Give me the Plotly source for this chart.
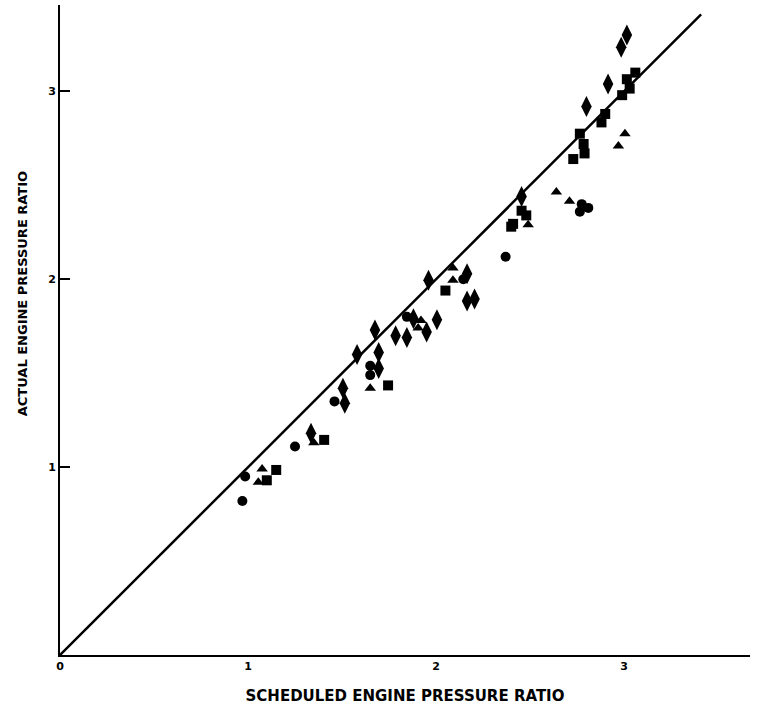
import plotly.graph_objects as go

# Test points: scheduled vs actual engine pressure ratio, by marker group
circle_sched = [0.97, 0.985, 1.25, 1.46, 1.65, 1.65, 1.845, 2.145, 2.37, 2.775, 2.81, 2.765]
circle_actual = [0.82, 0.95, 1.11, 1.35, 1.54, 1.49, 1.80, 2.00, 2.12, 2.40, 2.38, 2.36]

oval_sched = [1.335, 1.515, 1.505, 1.58, 1.675, 1.695, 1.695, 1.785, 1.845, 1.88, 1.95,
              2.005, 2.165, 2.205, 1.96, 2.165, 2.455, 2.80, 2.915, 2.985, 3.015]
oval_actual = [1.18, 1.34, 1.42, 1.60, 1.73, 1.61, 1.525, 1.70, 1.69, 1.79, 1.72,
               1.785, 1.885, 1.895, 1.995, 2.03, 2.44, 2.92, 3.04, 3.235, 3.30]

tri_sched = [1.075, 1.055, 1.35, 1.65, 1.92, 1.905, 2.09, 2.09, 2.49, 2.64, 2.71, 3.005, 2.97]
tri_actual = [0.99, 0.92, 1.13, 1.42, 1.78, 1.74, 2.06, 1.995, 2.29, 2.465, 2.415, 2.775, 2.71]

sq_sched = [1.15, 1.10, 1.405, 1.745, 2.05, 2.41, 2.40, 2.455, 2.48, 2.73, 2.79, 2.785,
            2.765, 2.88, 2.90, 2.99, 3.03, 3.015, 3.06]
sq_actual = [0.985, 0.93, 1.145, 1.435, 1.94, 2.295, 2.28, 2.365, 2.34, 2.64, 2.67, 2.72,
             2.775, 2.835, 2.88, 2.98, 3.015, 3.065, 3.10]

# Line of perfect agreement
line_x = [0, 3.41]
line_y = [0, 3.41]

x_ticks = [0, 1, 2, 3]
y_ticks = [1, 2, 3]

FONT = "DejaVu Sans, sans-serif"

fig = go.Figure()
fig.add_trace(go.Scatter(x=line_x, y=line_y, mode="lines",
                         line=dict(color="black", width=2.5), hoverinfo="skip"))

groups = [
    (circle_sched, circle_actual, "circle", 10),
    (oval_sched, oval_actual, "diamond-tall", 15),
    (tri_sched, tri_actual, "triangle-up", 10),
    (sq_sched, sq_actual, "square", 10),
]
for xs, ys, sym, size in groups:
    fig.add_trace(go.Scatter(x=xs, y=ys, mode="markers",
                             marker=dict(symbol=sym, size=size, color="black",
                                         line=dict(width=0))))

fig.update_layout(
    width=764, height=720,
    margin=dict(l=60, r=14, t=5, b=65),
    paper_bgcolor="white", plot_bgcolor="white",
    showlegend=False,
    font=dict(family=FONT, color="black"),
    xaxis=dict(
        range=[0, 3.67], showgrid=False, zeroline=False,
        showline=True, linecolor="black", linewidth=2,
        ticks="", ticklen=0,
        tickvals=x_ticks, ticktext=["<b>%d</b>" % v for v in x_ticks],
        tickfont=dict(size=11, family=FONT),
        title=dict(text="<b>SCHEDULED ENGINE PRESSURE RATIO</b>",
                   font=dict(size=15, family=FONT), standoff=18),
    ),
    yaxis=dict(
        range=[0, 3.46], showgrid=False, zeroline=False,
        showline=True, linecolor="black", linewidth=2,
        ticks="inside", ticklen=10, tickwidth=1.5, tickcolor="black",
        tickvals=y_ticks, ticktext=["<b>%d</b>" % v for v in y_ticks],
        tickfont=dict(size=11, family=FONT),
    ),
    annotations=[dict(
        text="<b>ACTUAL ENGINE PRESSURE RATIO</b>",
        xref="paper", yref="paper", x=-0.055, y=0.555,
        xanchor="center", yanchor="middle", textangle=-90, showarrow=False,
        font=dict(size=13, family=FONT),
    )],
)

fig.write_html("out.html")
